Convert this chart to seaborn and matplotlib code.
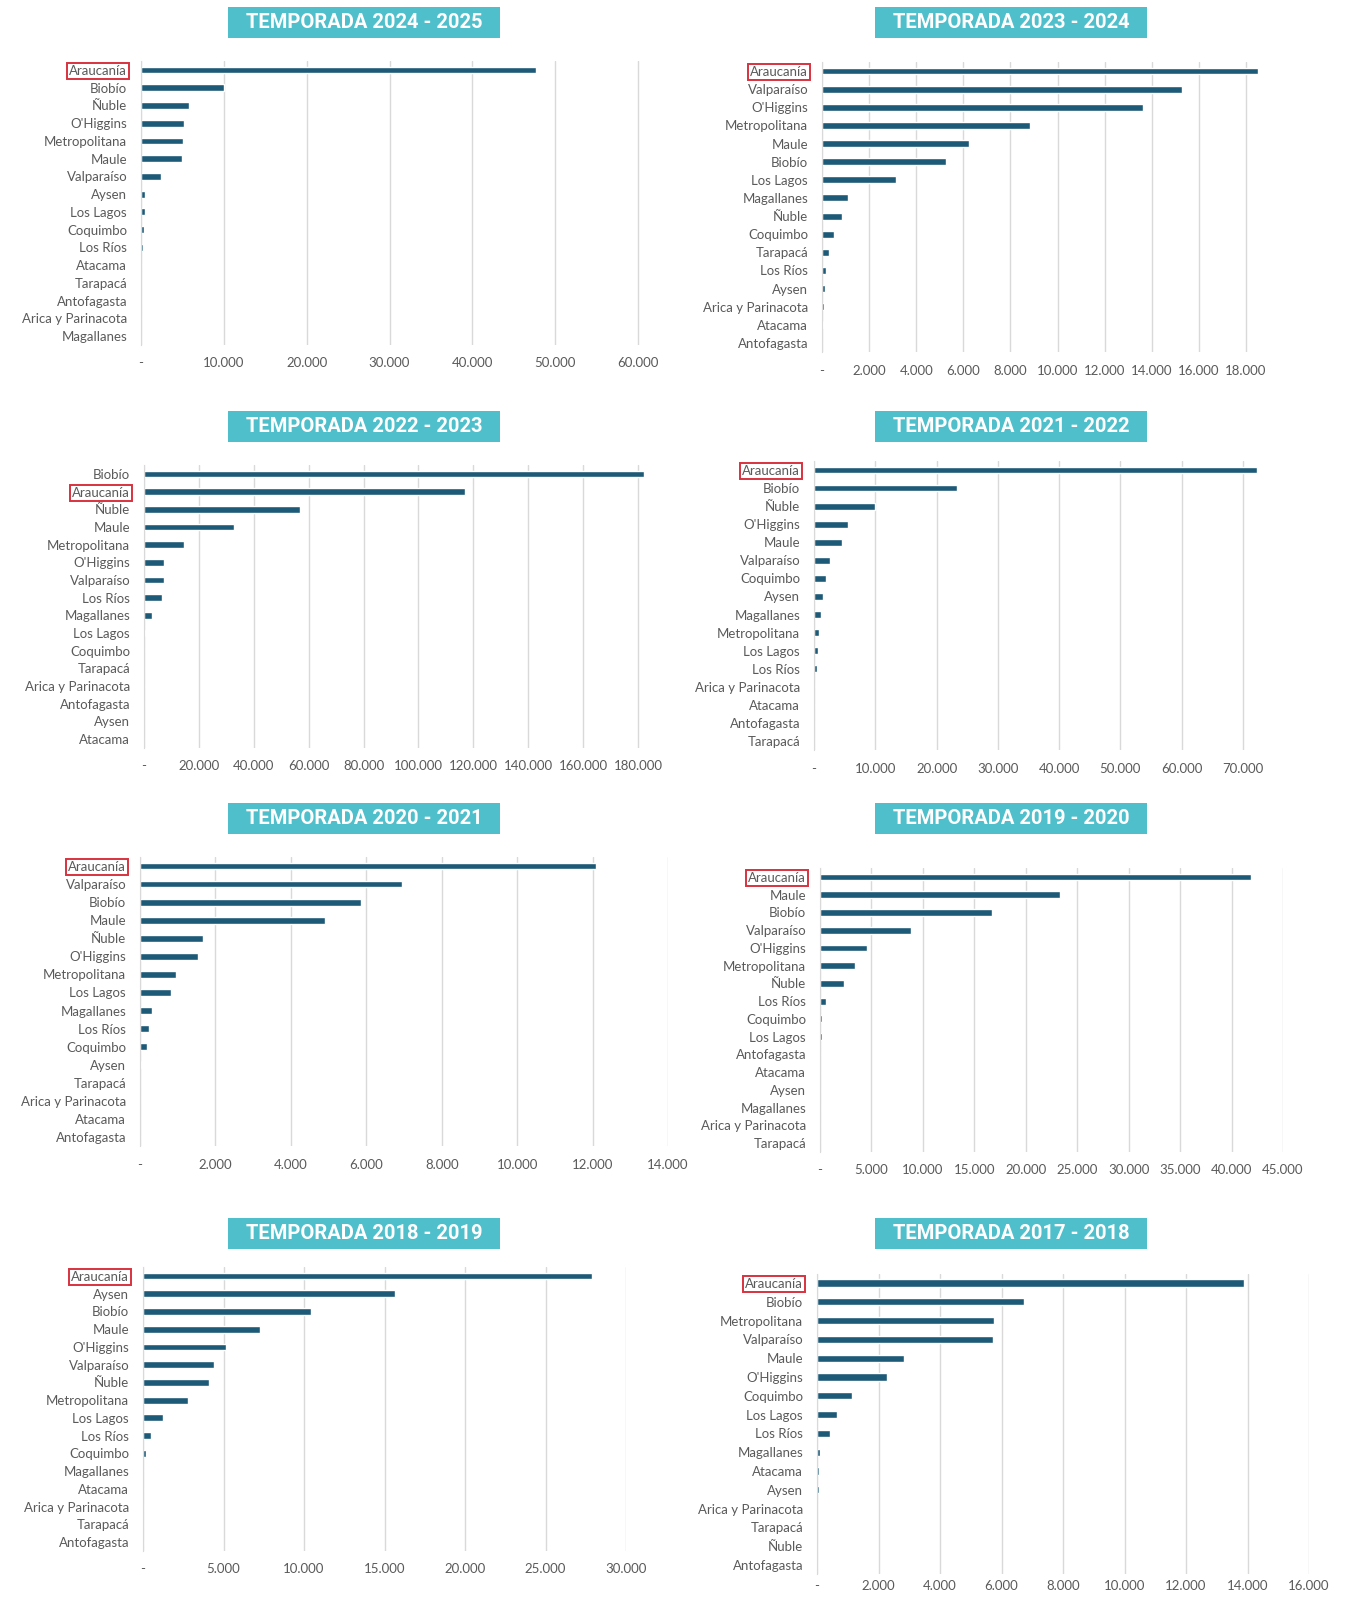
"""
Cosecha por región y temporada — 8 paneles de barras horizontales.
"""

import matplotlib.pyplot as plt
import pandas as pd
import seaborn as sns
from matplotlib.patches import Rectangle
from matplotlib.ticker import FuncFormatter, MultipleLocator

sns.set_style("white")
plt.rcParams["font.family"] = ["Lato", "DejaVu Sans"]

BAR_COLOR = "#1d5a78"
TITLE_COLOR = "#4fbfcb"
GRID_COLOR = "#d9d9d9"
TEXT_COLOR = "#5a5a5a"
BOX_RED = "#d8323f"

# ---- datos ----
temporadas = ["2024 - 2025", "2023 - 2024", "2022 - 2023", "2021 - 2022",
              "2020 - 2021", "2019 - 2020", "2018 - 2019", "2017 - 2018"]

regiones_2024 = ["Araucanía", "Biobío", "Ñuble", "O'Higgins", "Metropolitana", "Maule",
                 "Valparaíso", "Aysen", "Los Lagos", "Coquimbo", "Los Ríos", "Atacama",
                 "Tarapacá", "Antofagasta", "Arica y Parinacota", "Magallanes"]
valores_2024 = [47700, 10000, 5800, 5230, 5030, 4970, 2430, 500, 450, 400, 200, 0, 0, 0, 0, 0]

regiones_2023 = ["Araucanía", "Valparaíso", "O'Higgins", "Metropolitana", "Maule", "Biobío",
                 "Los Lagos", "Magallanes", "Ñuble", "Coquimbo", "Tarapacá", "Los Ríos",
                 "Aysen", "Arica y Parinacota", "Atacama", "Antofagasta"]
valores_2023 = [18530, 15270, 13610, 8810, 6240, 5280, 3140, 1120, 830, 510, 280, 150, 110, 70, 40, 0]

regiones_2022 = ["Biobío", "Araucanía", "Ñuble", "Maule", "Metropolitana", "O'Higgins",
                 "Valparaíso", "Los Ríos", "Magallanes", "Los Lagos", "Coquimbo", "Tarapacá",
                 "Arica y Parinacota", "Antofagasta", "Aysen", "Atacama"]
valores_2022 = [182100, 116800, 57000, 32800, 14400, 7400, 7400, 6600, 2800, 300, 0, 0, 0, 0, 0, 0]

regiones_2021 = ["Araucanía", "Biobío", "Ñuble", "O'Higgins", "Maule", "Valparaíso",
                 "Coquimbo", "Aysen", "Magallanes", "Metropolitana", "Los Lagos", "Los Ríos",
                 "Arica y Parinacota", "Atacama", "Antofagasta", "Tarapacá"]
valores_2021 = [72300, 23300, 9900, 5540, 4630, 2600, 2030, 1540, 1120, 770, 630, 420, 0, 0, 0, 0]

regiones_2020 = ["Araucanía", "Valparaíso", "Biobío", "Maule", "Ñuble", "O'Higgins",
                 "Metropolitana", "Los Lagos", "Magallanes", "Los Ríos", "Coquimbo", "Aysen",
                 "Tarapacá", "Arica y Parinacota", "Atacama", "Antofagasta"]
valores_2020 = [12100, 6940, 5860, 4900, 1680, 1530, 960, 810, 320, 230, 190, 30, 0, 0, 0, 0]

regiones_2019 = ["Araucanía", "Maule", "Biobío", "Valparaíso", "O'Higgins", "Metropolitana",
                 "Ñuble", "Los Ríos", "Coquimbo", "Los Lagos", "Antofagasta", "Atacama",
                 "Aysen", "Magallanes", "Arica y Parinacota", "Tarapacá"]
valores_2019 = [41880, 23280, 16670, 8840, 4610, 3430, 2350, 540, 210, 170, 0, 0, 0, 0, 0, 0]

regiones_2018 = ["Araucanía", "Aysen", "Biobío", "Maule", "O'Higgins", "Valparaíso",
                 "Ñuble", "Metropolitana", "Los Lagos", "Los Ríos", "Coquimbo", "Magallanes",
                 "Atacama", "Arica y Parinacota", "Tarapacá", "Antofagasta"]
valores_2018 = [27910, 15680, 10440, 7260, 5130, 4380, 4090, 2800, 1230, 510, 210, 0, 0, 0, 0, 0]

regiones_2017 = ["Araucanía", "Biobío", "Metropolitana", "Valparaíso", "Maule", "O'Higgins",
                 "Coquimbo", "Los Lagos", "Los Ríos", "Magallanes", "Atacama", "Aysen",
                 "Arica y Parinacota", "Tarapacá", "Ñuble", "Antofagasta"]
valores_2017 = [13880, 6720, 5770, 5730, 2820, 2280, 1130, 640, 420, 110, 60, 60, 0, 0, 0, 0]

regiones = [regiones_2024, regiones_2023, regiones_2022, regiones_2021,
            regiones_2020, regiones_2019, regiones_2018, regiones_2017]
valores = [valores_2024, valores_2023, valores_2022, valores_2021,
           valores_2020, valores_2019, valores_2018, valores_2017]

# escalas de cada eje: (paso, último tick, límite)
x_paso = [10000, 2000, 20000, 10000, 2000, 5000, 5000, 2000]
x_ticks_max = [60000, 18000, 180000, 70000, 14000, 45000, 30000, 16000]
x_lim = [60500, 18600, 185000, 73500, 14000, 45000, 30000, 16000]

# ---- layout en píxeles (ancho 1352 x alto 1599) ----
W, H = 1352, 1599
# (x del cero, x del último tick, y primera barra, y última barra)
paneles = [
    (141, 638, 70, 336),
    (822, 1246, 71, 343),
    (144, 638, 474, 739),
    (814, 1243, 470, 741),
    (140, 668, 866, 1137),
    (820, 1283, 877, 1143),
    (143, 626, 1276, 1542),
    (817, 1309, 1283, 1565),
]
x_pad = [9, 9, 9, 9, 9, 9, 9, 4]
titulo_x = [228, 875]
titulo_y = [7, 411, 803, 1218]
titulo_w, titulo_h = 272, 31


def miles(v, _):
    if abs(v) < 1e-9:
        return "-"
    return f"{int(round(v)):,}".replace(",", ".")


fig = plt.figure(figsize=(W / 100, H / 100), dpi=100)
fig.patch.set_facecolor("white")

for i, temporada in enumerate(temporadas):
    x0, x1, y0, y1 = paneles[i]
    n = len(regiones[i])
    sp = (y1 - y0) / (n - 1)
    px_por_unidad = (x1 - x0) / x_ticks_max[i]
    right = x0 + x_lim[i] * px_por_unidad
    top = y0 - sp / 2
    bottom = y1 + sp / 2
    ax = fig.add_axes([x0 / W, 1 - bottom / H, (right - x0) / W, (bottom - top) / H])

    df = pd.DataFrame({"region": regiones[i], "valor": valores[i]})
    sns.barplot(data=df, x="valor", y="region", ax=ax, color=BAR_COLOR,
                width=0.38, saturation=1, orient="h")

    ax.set_ylim(n - 0.5, -0.5)
    ax.xaxis.set_major_locator(MultipleLocator(x_paso[i]))
    ax.set_xlim(0, x_lim[i])
    ax.set_xticks([t for t in ax.get_xticks() if 0 <= t <= x_ticks_max[i] + 1])
    ax.set_xlim(0, x_lim[i])
    ax.xaxis.set_major_formatter(FuncFormatter(miles))
    ax.grid(axis="x", color=GRID_COLOR, linewidth=1)
    ax.set_axisbelow(True)
    for s in ["top", "right", "bottom"]:
        ax.spines[s].set_visible(False)
    ax.spines["left"].set_color(GRID_COLOR)
    ax.tick_params(axis="both", length=0, labelsize=9.5, labelcolor=TEXT_COLOR)
    ax.tick_params(axis="y", pad=10)
    ax.tick_params(axis="x", pad=x_pad[i])
    ax.set_xlabel("")
    ax.set_ylabel("")

    for lbl in ax.get_yticklabels():
        if lbl.get_text() == "Araucanía":
            lbl.set_bbox(dict(facecolor="none", edgecolor=BOX_RED, linewidth=1.4,
                              boxstyle="square,pad=0.15"))

    # caja del título
    tx = titulo_x[i % 2]
    ty = titulo_y[i // 2]
    fig.patches.append(Rectangle((tx / W, 1 - (ty + titulo_h) / H), titulo_w / W, titulo_h / H,
                                 transform=fig.transFigure, facecolor=TITLE_COLOR,
                                 edgecolor="none"))
    fig.text((tx + titulo_w / 2) / W, 1 - (ty + titulo_h / 2) / H, f"TEMPORADA {temporada}",
             ha="center", va="center", color="white", fontsize=14.5, fontweight="bold",
             family=["Roboto", "DejaVu Sans"])

fig.savefig("out.png", dpi=100, facecolor="white")
